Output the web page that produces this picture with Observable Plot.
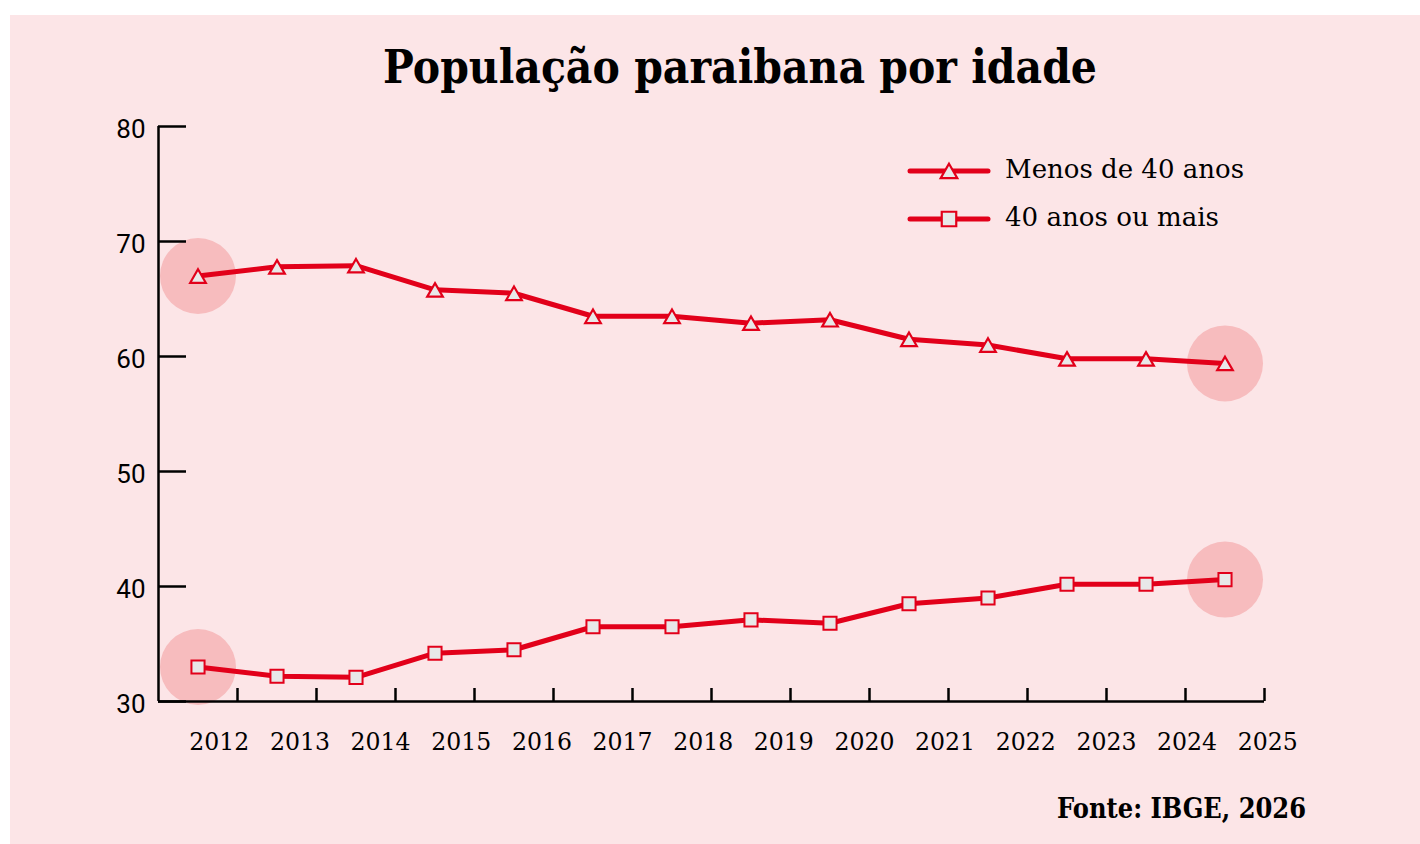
<!DOCTYPE html>
<html>
<head>
<meta charset="utf-8">
<script src="https://cdn.jsdelivr.net/npm/d3@7"></script>
<script src="https://cdn.jsdelivr.net/npm/@observablehq/plot@0.6"></script>
<style>
  html, body { margin: 0; padding: 0; background: #ffffff; }
  #wrap { position: relative; width: 1420px; height: 844px; overflow: hidden; }
  #panel { position: absolute; left: 10px; top: 15px; width: 1410px; height: 829px; background: #fce5e7; }
  #chart, #overlay { position: absolute; left: 0; top: 0; }
</style>
</head>
<body>
<div id="wrap">
  <div id="panel"></div>
  <div id="chart"></div>
  <svg id="overlay" width="1420" height="844"></svg>
</div>
<script>
// ---- Data ----
const years = [2012, 2013, 2014, 2015, 2016, 2017, 2018, 2019, 2020, 2021, 2022, 2023, 2024, 2025];
const seriesNames = ["Menos de 40 anos", "40 anos ou mais"];
const under40 = [67.0, 67.8, 67.9, 65.8, 65.5, 63.5, 63.5, 62.9, 63.2, 61.5, 61.0, 59.8, 59.8, 59.4];
const over40  = [33.0, 32.2, 32.1, 34.2, 34.5, 36.5, 36.5, 37.1, 36.8, 38.5, 39.0, 40.2, 40.2, 40.6];
const yTicks = [30, 40, 50, 60, 70, 80];
const xTickLabels = years.map(String);
const titleText = "População paraibana por idade";
const sourceText = "Fonte: IBGE, 2026";

// ---- Style ----
const RED = "#e2001a";
const MARKER_FILL = "#e8e8e8";
const HALO = "#f7bcbe";
const serif = "'DejaVu Serif', serif";

const rows = [];
years.forEach((yr, i) => {
  rows.push({year: yr, value: under40[i], series: seriesNames[0]});
  rows.push({year: yr, value: over40[i], series: seriesNames[1]});
});
const first = d3.min(years), last = d3.max(years);
const highlights = rows.filter(d => d.year === first || d.year === last);
const tickPositions = years.map(y => y + 0.5);

const W = 1420, H = 844;
const mL = 158, mR = 156, mT = 126, mB = 143;
const plotW = W - mL - mR, plotH = H - mT - mB;

const chart = Plot.plot({
  width: W,
  height: H,
  marginLeft: mL,
  marginRight: mR,
  marginTop: mT,
  marginBottom: mB,
  style: {background: "transparent", overflow: "visible"},
  x: {type: "linear", domain: [first - 0.5, last + 0.5], axis: null},
  y: {domain: [30, 80], axis: null},
  marks: [
    Plot.dot(highlights, {x: "year", y: "value", r: 38, fill: HALO}),
    // axes
    Plot.ruleX([first - 0.5], {stroke: "#000", strokeWidth: 2.5}),
    Plot.ruleY([30], {stroke: "#000", strokeWidth: 2.5}),
    Plot.ruleY(yTicks, {stroke: "#000", strokeWidth: 2.5, insetRight: plotW - 28}),
    Plot.ruleX(tickPositions, {stroke: "#000", strokeWidth: 2.5, insetTop: plotH - 13}),
    Plot.text(yTicks, {x: first - 0.5, y: d => d, text: d => String(d), textAnchor: "end", dx: -13, dy: 3,
      fontSize: 26, fontFamily: "Roboto", fill: "#000"}),
    Plot.text(years, {x: d => d + 0.27 + (d - first) * 0.0208, y: 30, dy: 40, text: (d, i) => xTickLabels[i],
      fontSize: 25, fontFamily: serif, fill: "#000"}),
    // lines
    Plot.line(rows, {x: "year", y: "value", z: "series", stroke: RED, strokeWidth: 5, strokeLinejoin: "round"}),
    Plot.dot(rows.filter(d => d.series === seriesNames[0]), {x: "year", y: "value", symbol: "triangle", r: 5.8, dy: 2.3,
      fill: MARKER_FILL, stroke: RED, strokeWidth: 2.2}),
    Plot.dot(rows.filter(d => d.series === seriesNames[1]), {x: "year", y: "value", symbol: "square", r: 7.4,
      fill: MARKER_FILL, stroke: RED, strokeWidth: 2})
  ]
});
// compress x tick labels slightly to match the narrower reference digits
d3.select(chart).selectAll("text").filter(function() { return /^\d{4}$/.test(this.textContent); })
  .attr("textLength", 60).attr("lengthAdjust", "spacingAndGlyphs");
document.getElementById("chart").appendChild(chart);

// ---- Overlay texts: title, legend, source ----
const ov = d3.select("#overlay");
ov.append("text").attr("x", 740).attr("y", 83).attr("text-anchor", "middle")
  .attr("font-family", serif).attr("font-weight", "bold").attr("font-size", 47).attr("fill", "#000")
  .attr("textLength", 714).attr("lengthAdjust", "spacingAndGlyphs")
  .text(titleText);
ov.append("text").attr("x", 1306).attr("y", 818).attr("text-anchor", "end")
  .attr("font-family", serif).attr("font-weight", "bold").attr("font-size", 27).attr("fill", "#000")
  .attr("textLength", 249).attr("lengthAdjust", "spacingAndGlyphs")
  .text(sourceText);

const legendSymbols = [d3.symbolTriangle, d3.symbolSquare];
const legendSizes = [120, 210];
const legendY = [171, 219];
const legendWidths = [239, 214];
seriesNames.forEach((name, i) => {
  const g = ov.append("g");
  g.append("line").attr("x1", 910).attr("x2", 988).attr("y1", legendY[i]).attr("y2", legendY[i])
    .attr("stroke", RED).attr("stroke-width", 5).attr("stroke-linecap", "round");
  g.append("path").attr("d", d3.symbol(legendSymbols[i], legendSizes[i])())
    .attr("transform", `translate(949,${legendY[i] + (i === 0 ? 2.3 : 0)})`)
    .attr("fill", MARKER_FILL).attr("stroke", RED).attr("stroke-width", 2.2);
  g.append("text").attr("x", 1005).attr("y", legendY[i] + 7)
    .attr("font-family", serif).attr("font-size", 26).attr("fill", "#000")
    .attr("textLength", legendWidths[i]).attr("lengthAdjust", "spacingAndGlyphs")
    .text(name);
});
</script>
</body>
</html>
